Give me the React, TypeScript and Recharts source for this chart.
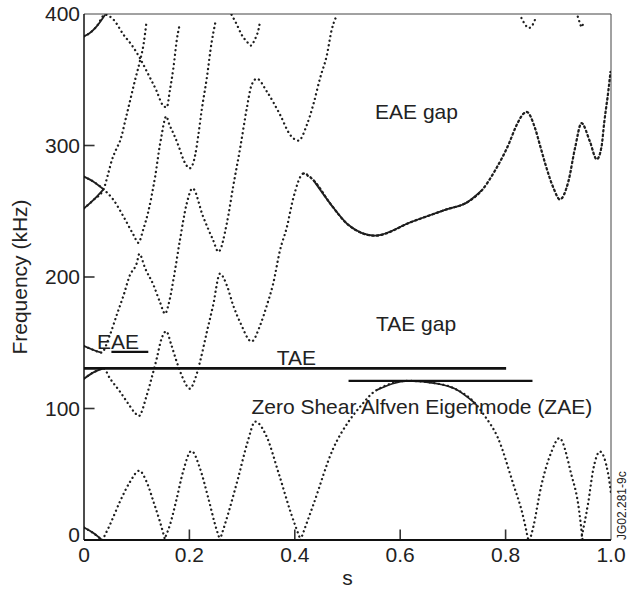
import { LineChart, Line, XAxis, YAxis, ReferenceLine, ReferenceDot, Label } from "recharts";

type P = [number, number];
const toPts = (a: P[]) => a.map(([s, f]) => ({ s, f }));

const FONT = "'Liberation Sans', Arial, Helvetica, sans-serif";
const INK = "#1e1e1e";
const TXT = "#222";

// axis ticks
const sTicks = [0, 0.2, 0.4, 0.6, 0.8, 1];
const fTicks = [0, 100, 200, 300, 400];
const sInner = [0.2, 0.4, 0.6, 0.8];
const fInner = [100, 200, 300];

// lowest continuum, arcs bouncing off zero  [s, kHz]
const arc0: P[] = [[0, 9.5], [0.015, 6], [0.034, 0]];
const arc1: P[] = [[0.035, 0], [0.049, 11.4], [0.068, 29], [0.087, 44], [0.105, 52.7], [0.119, 44], [0.132, 29], [0.144, 14], [0.154, 0]];
const arc2: P[] = [[0.152, 0], [0.163, 11.4], [0.176, 31.7], [0.188, 52], [0.204, 67.7], [0.220, 54.5], [0.236, 31.7], [0.249, 11.4], [0.258, 0]];
const arc3: P[] = [[0.258, 0], [0.275, 22], [0.293, 48], [0.31, 74], [0.325, 90], [0.345, 80], [0.37, 50], [0.393, 20], [0.411, 0]];
const arc4: P[] = [[0.411, 0], [0.435, 26.6], [0.473, 69.7], [0.502, 90], [0.524, 101.4], [0.555, 114], [0.615, 121], [0.67, 119], [0.704, 115], [0.742, 104], [0.761, 94], [0.785, 78], [0.815, 42], [0.832, 20], [0.843, 0]];
const arc5: P[] = [[0.846, 0], [0.852, 9], [0.868, 41.8], [0.887, 67], [0.902, 77.5], [0.925, 49.4], [0.938, 26.6], [0.946, 0]];
const arc6: P[] = [[0.943, 0], [0.957, 29], [0.966, 53], [0.979, 67.2], [0.995, 49.4], [1.0, 35.5]];

// TAE gap lower edge / EAE gap lower edge
const m1: P[] = [[0, 122.7], [0.018, 127.5], [0.037, 130.5], [0.049, 123], [0.068, 113], [0.085, 103], [0.097, 96.5], [0.104, 94.3],
  [0.119, 110], [0.128, 122.7], [0.138, 138], [0.147, 153], [0.156, 158.7], [0.166, 148], [0.176, 135.4], [0.188, 122.7], [0.201, 115],
  [0.211, 122.7], [0.220, 135.4], [0.233, 158], [0.245, 178.5], [0.258, 202.5], [0.271, 193.7], [0.283, 178.5], [0.296, 165.8], [0.318, 151],
  [0.334, 163], [0.347, 178.5], [0.359, 195], [0.372, 220.5], [0.385, 238], [0.397, 259.8], [0.417, 278.8], [0.435, 273.8], [0.467, 256],
  [0.502, 239.5], [0.552, 231.4], [0.622, 242], [0.685, 251], [0.729, 257.3], [0.755, 266], [0.780, 281], [0.808, 303], [0.818, 313],
  [0.840, 325.5], [0.856, 313], [0.865, 300.6], [0.875, 286.5], [0.891, 267.5], [0.903, 259], [0.919, 272.5], [0.932, 298.6], [0.944, 317],
  [0.960, 303], [0.973, 289.5], [0.982, 299], [0.987, 317], [0.995, 341.7], [0.999, 356]];

// TAE gap upper edge
const m2: P[] = [[0, 147.5], [0.018, 144.5], [0.033, 142.5], [0.049, 155.7], [0.062, 171], [0.075, 186], [0.087, 201.3], [0.1, 210.4],
  [0.105, 217.5], [0.116, 206.6], [0.132, 193.7], [0.144, 181], [0.154, 172], [0.16, 178.5], [0.17, 198.7], [0.182, 228], [0.195, 256],
  [0.206, 267.4], [0.226, 245.9], [0.245, 228], [0.255, 219.2], [0.271, 240.8], [0.283, 268.7], [0.297, 299.6], [0.309, 328.5], [0.318, 346],
  [0.328, 350.8], [0.347, 341], [0.372, 323.4], [0.391, 308.2], [0.407, 303.7], [0.423, 315.8], [0.435, 331], [0.448, 351.3], [0.461, 369],
  [0.47, 388], [0.478, 397.5]];

const m3: P[] = [[0, 276.3], [0.018, 272.5], [0.037, 266.7], [0.056, 258.6], [0.075, 245.9], [0.094, 232], [0.103, 226], [0.113, 237],
  [0.122, 249.7], [0.128, 261], [0.135, 276.3], [0.144, 300.4], [0.147, 307], [0.152, 318], [0.156, 322.2], [0.162, 315.8], [0.171, 308],
  [0.18, 299], [0.19, 288], [0.201, 282.7], [0.211, 292.8], [0.217, 308], [0.223, 326], [0.233, 351.3], [0.242, 378], [0.249, 393]];

const m4: P[] = [[0, 252.2], [0.018, 258.6], [0.037, 266.7], [0.046, 278.8], [0.053, 289], [0.062, 297.9], [0.068, 303], [0.081, 323.4],
  [0.097, 350], [0.106, 364], [0.113, 377], [0.118, 392]];

const u1: P[] = [[0, 383], [0.011, 385.5], [0.024, 390.6], [0.04, 399.5], [0.056, 395.7], [0.075, 384.3], [0.09, 376.7], [0.106, 366.5],
  [0.119, 356.4], [0.138, 341.2], [0.149, 331], [0.157, 329], [0.163, 342], [0.17, 360], [0.176, 380], [0.181, 391]];
const u4: P[] = [[0.28, 399.5], [0.29, 392], [0.299, 384.3], [0.309, 379], [0.317, 376], [0.324, 380.5], [0.331, 388], [0.334, 394]];
const u5: P[] = [[0.83, 397], [0.837, 392], [0.844, 389.4], [0.853, 393], [0.857, 397]];
const u6: P[] = [[0.937, 398], [0.941, 393], [0.944, 390], [0.948, 394]];

// eigenmode frequencies
const taeLine: P[] = [[0, 130.5], [0.801, 130.5]];
const eaeLine: P[] = [[0.052, 143], [0.122, 143]];
const zaeLine: P[] = [[0.502, 121], [0.851, 121]];

const notes = [
  { text: "EAE gap", s: 0.631, f: 325.5 },
  { text: "TAE gap", s: 0.63, f: 164.8 },
  { text: "EAE", s: 0.0645, f: 151 },
  { text: "TAE", s: 0.403, f: 138.5 },
  { text: "Zero Shear Alfven Eigenmode (ZAE)", s: 0.641, f: 101.2 },
];

const curves: { id: string; pts: P[]; solid?: [number, number] }[] = [
  { id: "a0", pts: arc0, solid: [0, 0.04] },
  { id: "a1", pts: arc1 },
  { id: "a2", pts: arc2 },
  { id: "a3", pts: arc3 },
  { id: "a4", pts: arc4, solid: [0.54, 0.745] },
  { id: "a5", pts: arc5 },
  { id: "a6", pts: arc6 },
  { id: "m1", pts: m1, solid: [0, 0.037] },
  { id: "m1b", pts: m1.filter(([s]) => s > 0.4), solid: [0.43, 0.76] },
  { id: "m2", pts: m2, solid: [0, 0.033] },
  { id: "m3", pts: m3, solid: [0, 0.037] },
  { id: "m4", pts: m4, solid: [0, 0.037] },
  { id: "u1", pts: u1, solid: [0, 0.04] },
  { id: "u4", pts: u4 },
  { id: "u5", pts: u5 },
  { id: "u6", pts: u6 },
];

// inward tick marks, built from the tick lists (about 10px long)
const S_TICK = 0.02;
const F_TICK = 8;
const tickMarks: P[][] = [
  ...fInner.map((v): P[] => [[0, v], [S_TICK, v]]),
  ...sInner.map((v): P[] => [[v, 0], [v, F_TICK]]),
];

const YTick = ({ x, y, payload }: any) => (
  <text x={x} y={payload.value === 0 ? y - 5 : y} dy="0.355em" textAnchor="end" fontSize={21} fill={TXT}>
    {String(payload.value)}
  </text>
);

const XTick = ({ x, y, payload }: any) => {
  const v = payload.value;
  return (
    <text x={x} y={y} dy="0.71em" textAnchor="middle" fontSize={21} fill={TXT}>
      {v === 0 ? "0" : v === 1 ? "1.0" : v.toFixed(1)}
    </text>
  );
};

const YTitle = ({ viewBox }: any) => {
  const cx = 27;
  const cy = viewBox.y + viewBox.height / 2;
  return (
    <text x={cx} y={cy} transform={`rotate(-90 ${cx} ${cy})`} textAnchor="middle" fontSize={21} fill={TXT}>
      Frequency (kHz)
    </text>
  );
};

const Stamp = ({ viewBox }: any) => {
  const cx = viewBox.x + 15;
  const cy = viewBox.y;
  return (
    <text x={cx} y={cy} transform={`rotate(-90 ${cx} ${cy})`} fontSize={12} fill={TXT}>
      JG02.281-9c
    </text>
  );
};

export default function App() {
  return (
    <div style={{ position: "absolute", left: 0, top: 0, width: 629, height: 590, background: "#fff" }}>
      <LineChart width={629} height={590} margin={{ top: 14, right: 18, bottom: 0, left: 0 }} style={{ fontFamily: FONT }}>
        <XAxis
          type="number"
          dataKey="s"
          domain={[0, 1]}
          ticks={sTicks}
          height={50}
          tickSize={0}
          tickMargin={7}
          tickLine={false}
          axisLine={{ stroke: "#111", strokeWidth: 2 }}
          tick={<XTick />}
          allowDataOverflow
        >
          <Label value="s" position="insideBottom" offset={5} fontSize={21} fill={TXT} />
        </XAxis>
        <YAxis
          type="number"
          domain={[0, 400]}
          ticks={fTicks}
          width={84}
          tickSize={0}
          tickMargin={4}
          tickLine={false}
          axisLine={{ stroke: "#111", strokeWidth: 1.5 }}
          tick={<YTick />}
          allowDataOverflow
        >
          <Label content={<YTitle />} />
        </YAxis>
        <ReferenceLine y={400} stroke="#444" strokeWidth={1} />
        <ReferenceLine x={1} stroke="#444" strokeWidth={1} />

        {tickMarks.map((t, i) => (
          <Line
            key={"tick" + i}
            data={toPts(t)}
            dataKey="f"
            type="linear"
            stroke="#333"
            strokeWidth={1.6}
            dot={false}
            activeDot={false}
            isAnimationActive={false}
          />
        ))}

        {curves.map((c) => (
          <Line
            key={c.id}
            data={toPts(c.pts)}
            dataKey="f"
            type="monotone"
            stroke={INK}
            strokeWidth={2.3}
            strokeDasharray="0.1 4.5"
            strokeLinecap="round"
            dot={false}
            activeDot={false}
            isAnimationActive={false}
          />
        ))}
        {curves
          .filter((c) => c.solid)
          .map((c) => (
            <Line
              key={c.id + "-solid"}
              data={toPts(c.pts.filter(([s]) => s >= c.solid![0] - 1e-9 && s <= c.solid![1] + 1e-9))}
              dataKey="f"
              type="monotone"
              stroke={INK}
              strokeWidth={1.8}
              dot={false}
              activeDot={false}
              isAnimationActive={false}
            />
          ))}

        {[taeLine, eaeLine, zaeLine].map((l, i) => (
          <Line
            key={"mode" + i}
            data={toPts(l)}
            dataKey="f"
            type="linear"
            stroke="#111"
            strokeWidth={i === 0 ? 2.6 : 2.2}
            dot={false}
            activeDot={false}
            isAnimationActive={false}
          />
        ))}

        {notes.map((n) => (
          <ReferenceDot key={n.text} x={n.s} y={n.f} r={0} fill="none" stroke="none"
            label={{ value: n.text, position: "center", fontSize: 21, fill: TXT }} />
        ))}
        <ReferenceDot x={1} y={0} r={0} fill="none" stroke="none" label={<Stamp />} />
      </LineChart>
    </div>
  );
}
